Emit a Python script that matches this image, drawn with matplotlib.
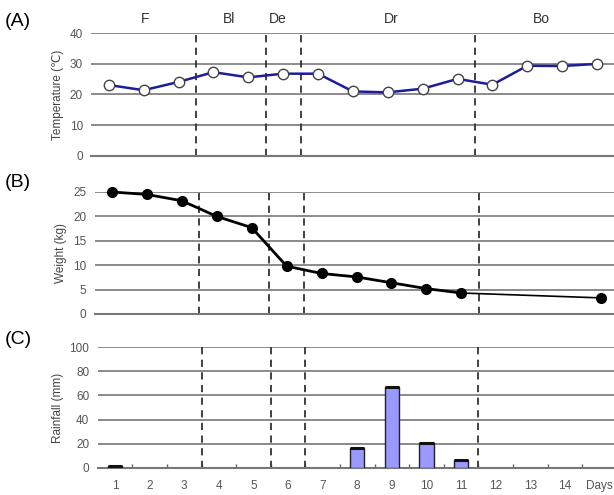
import matplotlib
matplotlib.use("Agg")
import matplotlib.pyplot as plt

# ---- data ----
day_labels = ['1', '2', '3', '4', '5', '6', '7', '8', '9', '10', '11', '12', '13', '14', 'Days']
temp_days = [1, 2, 3, 4, 5, 6, 7, 8, 9, 10, 11, 12, 13, 14, 15]
temperature = [23.1, 21.4, 24.1, 27.3, 25.6, 26.8, 26.8, 21.0, 20.7, 21.9, 25.1, 23.2, 29.4, 29.3, 30.0]

weight_days = [1, 2, 3, 4, 5, 6, 7, 8, 9, 10, 11, 15]
weight = [25.0, 24.5, 23.2, 20.0, 17.7, 9.8, 8.3, 7.6, 6.4, 5.2, 4.3, 3.3]

rain_days = [1, 8, 9, 10, 11]
rainfall = [1.0, 16.1, 66.8, 20.3, 6.4]

phase_names = ['F', 'Bl', 'De', 'Dr', 'Bo']
phase_label_x = [2.05, 4.45, 5.85, 9.1, 13.4]
phase_bounds = [3.5, 5.5, 6.5, 11.5]

FONT = ['Liberation Sans Narrow', 'Liberation Sans', 'DejaVu Sans']
plt.rcParams['font.family'] = FONT

W, H = 614, 495
fig = plt.figure(figsize=(W / 100, H / 100), dpi=100)


def px_axes(left, top, right, bottom):
    return fig.add_axes([left / W, 1 - bottom / H, (right - left) / W, (bottom - top) / H])


GRID = '#8a8a8a'
TXT = '#555555'


def style(ax, ymax, ystep, ylabel, show_x=False):
    ax.set_xlim(0.5, 15.5)
    ax.set_ylim(0, ymax)
    for s in ['left', 'right', 'top']:
        ax.spines[s].set_visible(False)
    ax.spines['bottom'].set_color('#777777')
    ax.spines['bottom'].set_linewidth(1.5)
    ax.set_yticks(list(range(0, ymax + 1, ystep)))
    for v in range(ystep, ymax + 1, ystep):
        ax.axhline(v, color=GRID, lw=1.4, zorder=1)
    ax.tick_params(axis='y', length=0, labelsize=8.5, labelcolor=TXT, pad=6)
    ax.set_ylabel(ylabel, fontsize=8.5, color='#444444', labelpad=4)
    for b in phase_bounds:
        ax.axvline(b, color='#333333', lw=1.3, ls=(0, (4, 3)), zorder=2)
    if not show_x:
        ax.set_xticks([])


# (A) temperature
axA = px_axes(91.3, 33.3, 614.5, 155.7)
style(axA, 40, 10, 'Temperature (\u2103)')
axA.plot(temp_days, temperature, color='#1c1c9c', lw=1.8, marker='o', ms=7.5,
         mfc='white', mec='#444444', mew=1.0, zorder=4, clip_on=False)
for name, x in zip(phase_names, phase_label_x):
    axA.text(x, 1.12, name, transform=axA.get_xaxis_transform(), ha='center', va='center',
             fontsize=10, color='#333333')

# (B) weight
axB = px_axes(94.5, 192, 618.5, 314)
style(axB, 25, 5, 'Weight (kg)')
axB.plot(weight_days[:-1], weight[:-1], color='black', lw=2, marker='o', ms=7, zorder=4, clip_on=False)
axB.plot(weight_days[-2:], weight[-2:], color='black', lw=1.2, zorder=4, clip_on=False)
axB.plot(weight_days[-1:], weight[-1:], color='black', marker='o', ms=7, ls='none', zorder=4, clip_on=False)

# (C) rainfall
axC = px_axes(97.7, 347.3, 616.7, 467.7)
style(axC, 100, 20, 'Rainfall (mm)', show_x=True)
bars = axC.bar(rain_days, rainfall, width=0.42, color='#9999ff', edgecolor='#222222', lw=1.0, zorder=3)
for b in bars:
    axC.plot([b.get_x(), b.get_x() + b.get_width()], [b.get_height(), b.get_height()],
             color='#111111', lw=2.2, zorder=4, solid_capstyle='butt')
axC.set_xticks(range(1, 16))
axC.set_xticklabels(day_labels)
axC.tick_params(axis='x', length=0, labelsize=8.5, labelcolor=TXT, pad=9)
axC.set_xticks([i + 0.5 for i in range(1, 15)], minor=True)
axC.tick_params(axis='x', which='minor', direction='in', length=3, color='#666666', width=1)

for ax, lab, y in [(axA, '(A)', 21), (axB, '(B)', 183), (axC, '(C)', 340)]:
    fig.text(5 / W, 1 - y / H, lab, fontsize=14, color='black', ha='left', va='center')

fig.savefig('out.png', dpi=100, facecolor='white')
